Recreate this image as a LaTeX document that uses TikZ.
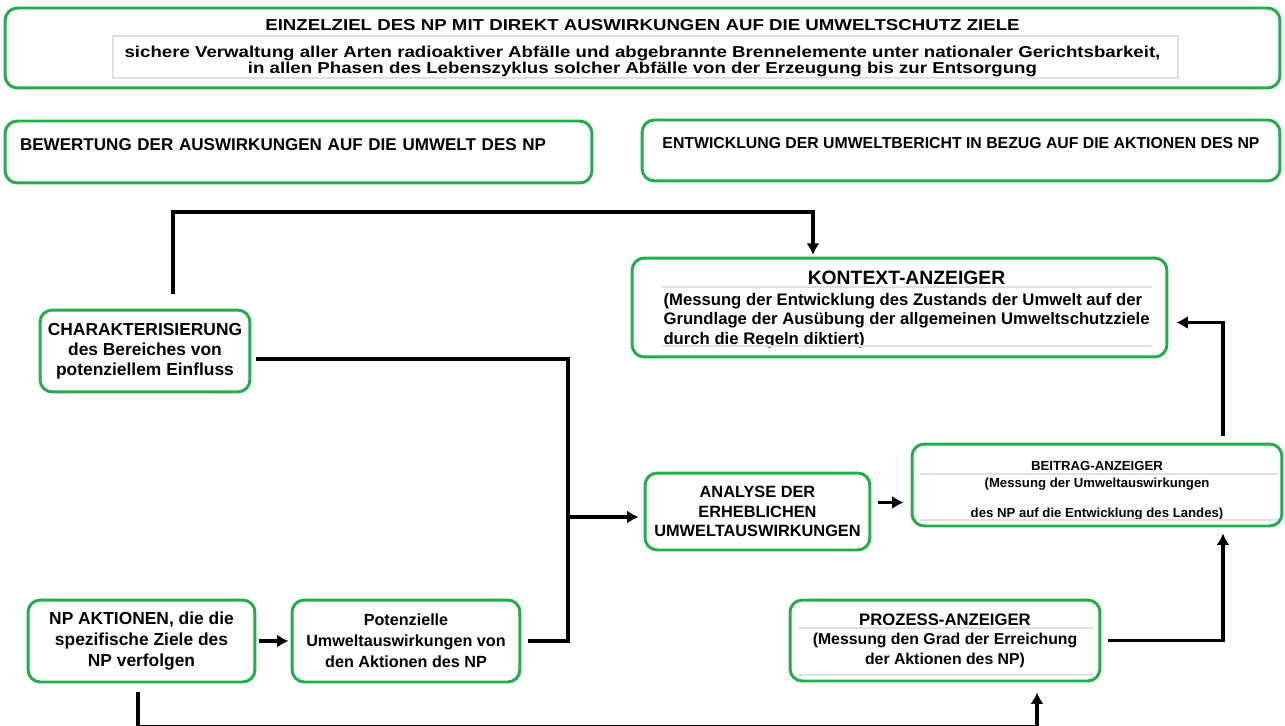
\documentclass[tikz,border=0pt]{standalone}
\usepackage{fontspec}
\setmainfont{Liberation Sans}
\newfontfamily\widefont[FakeStretch=1.18]{Liberation Sans}
\usetikzlibrary{shapes,arrows,arrows.meta}
\usetikzlibrary{positioning}
\definecolor{boxgreen}{RGB}{34,172,76}
\newcommand\setfs[2]{\fontsize{#1}{#2}\selectfont}
\tikzstyle{box} = [draw=boxgreen, line width=1.7pt, rounded corners=7pt,
fill=white, align=center, inner sep=2pt]
\tikzstyle{line} = [draw, -{Latex[length=6.5pt, width=7.5pt]}, line width=2.2pt]
\tikzstyle{sep} = [draw=black!12, line width=0.6pt]

\begin{document}
\begin{tikzpicture}[x=0.02cm, y=-0.02cm,
    every node/.style={font=\bfseries}]
    \useasboundingbox (0,0) rectangle (1285,726);
    %% top row
    \node[box, minimum width=25.5cm, minimum height=1.6cm, font=\widefont\bfseries\setfs{9}{9}] (goal) at (642.5,48)
      {EINZELZIEL DES NP MIT DIREKT AUSWIRKUNGEN AUF DIE UMWELTSCHUTZ ZIELE\\[6.5pt]
       sichere Verwaltung aller Arten radioaktiver Abfälle und abgebrannte Brennelemente unter nationaler Gerichtsbarkeit,\\
       in allen Phasen des Lebenszyklus solcher Abfälle von der Erzeugung bis zur Entsorgung};
    \draw[sep] (113,36) rectangle (1178,78);
    \node[box, minimum width=11.74cm, minimum height=1.24cm, text width=11.14cm, inner xsep=0.3cm,
      text depth=9pt, align=left, font=\bfseries\setfs{9.7}{11}] (bew) at (298.5,152)
      {BEWERTUNG DER AUSWIRKUNGEN AUF DIE UMWELT DES NP};
    \node[box, minimum width=12.76cm, minimum height=1.22cm,
      text depth=9pt, font=\bfseries\setfs{9}{10}] (ent) at (961,150.5)
      {ENTWICKLUNG DER UMWELTBERICHT IN BEZUG AUF DIE AKTIONEN DES NP};
    %% indicators
    \node[box, minimum width=10.7cm, minimum height=1.98cm, font=\bfseries\setfs{9.5}{11}] (kon) at (899.5,307.5)
      {\hspace*{8pt}\begin{tabular}{@{}l@{}}\multicolumn{1}{@{}c@{}}{\setfs{11}{12}\rule{0pt}{11pt}KONTEXT-ANZEIGER}\\[1pt]
       (Messung der Entwicklung des Zustands der Umwelt auf der\\
       Grundlage der Ausübung der allgemeinen Umweltschutzziele\\
       durch die Regeln diktiert)\end{tabular}};
    \draw[sep] (662,287) -- (1152,287);
    \draw[sep] (662,346) -- (1152,346);
    \node[box, minimum width=4.2cm, minimum height=1.64cm, font=\bfseries\setfs{9.9}{11.5}] (cha) at (145,351)
      {CHARAKTERISIERUNG\\des Bereiches von\\potenziellem Einfluss};
    \node[box, minimum width=4.5cm, minimum height=1.54cm, font=\bfseries\setfs{9.3}{11}] (ana) at (757.5,511.5)
      {ANALYSE DER\\ERHEBLICHEN\\UMWELTAUSWIRKUNGEN};
    \node[box, minimum width=7.4cm, minimum height=1.64cm, font=\bfseries\setfs{7.5}{10}] (bei) at (1097,485)
      {\rule{0pt}{12pt}BEITRAG-ANZEIGER\\(Messung der Umweltauswirkungen\\[7pt]des NP auf die Entwicklung des Landes)};
    \draw[sep] (920,474) -- (1278,474);
    \draw[sep] (920,520) -- (1278,520);
    \node[box, minimum width=4.54cm, minimum height=1.64cm, font=\bfseries\setfs{9.9}{12}] (npa) at (141.5,641)
      {NP AKTIONEN, die die\\spezifische Ziele des\\NP verfolgen};
    \node[box, minimum width=4.56cm, minimum height=1.64cm, font=\bfseries\setfs{9.2}{12}] (pot) at (406,641)
      {Potenzielle\\Umweltauswirkungen von\\den Aktionen des NP};
    \node[box, minimum width=6.2cm, minimum height=1.62cm, font=\bfseries\setfs{9}{11}] (pro) at (945,640.5)
      {{\setfs{9.5}{11}PROZESS-ANZEIGER}\\(Messung den Grad der Erreichung\\der Aktionen des NP)};
    \draw[sep] (798,628) -- (1093,628);
    \draw[sep] (798,675) -- (1093,675);
    %% junctions
    \coordinate (jk) at (813,212);
    \coordinate (jx) at (568,517);
    \coordinate (jb) at (1037,727);
    \coordinate (ab) at ([shift={(0,-9)}]ana.east);
    %% flows
    \path [line, shorten >=1pt] ([shift={(28,-15)}]cha.north) |- (jk) -- (jk |- kon.north);
    \draw [line width=2.2pt] ([shift={(5,8)}]cha.east) -| (jx) |- ([shift={(7,0)}]pot.east);
    \path [line, shorten >=0.1cm] (jx) -- (jx -| ana.west);
    \path [line, shorten <=0.06cm, shorten >=0.04cm] (npa) -- (pot);
    \path [line, shorten <=0.14cm, shorten >=0.14cm] (ab) -- (ab -| bei.west);
    \path [line] ([shift={(126,-7)}]bei.north) |- ([shift={(8,15)}]kon.east);
    \path [line] ([shift={(7,0)}]pro.east) -| ([shift={(126,6)}]bei.south);
    \path [line, shorten >=0.2cm] ([shift={(-3.5,9)}]npa.south) |- (jb) -- (jb |- pro.south);
\end{tikzpicture}
\end{document}
